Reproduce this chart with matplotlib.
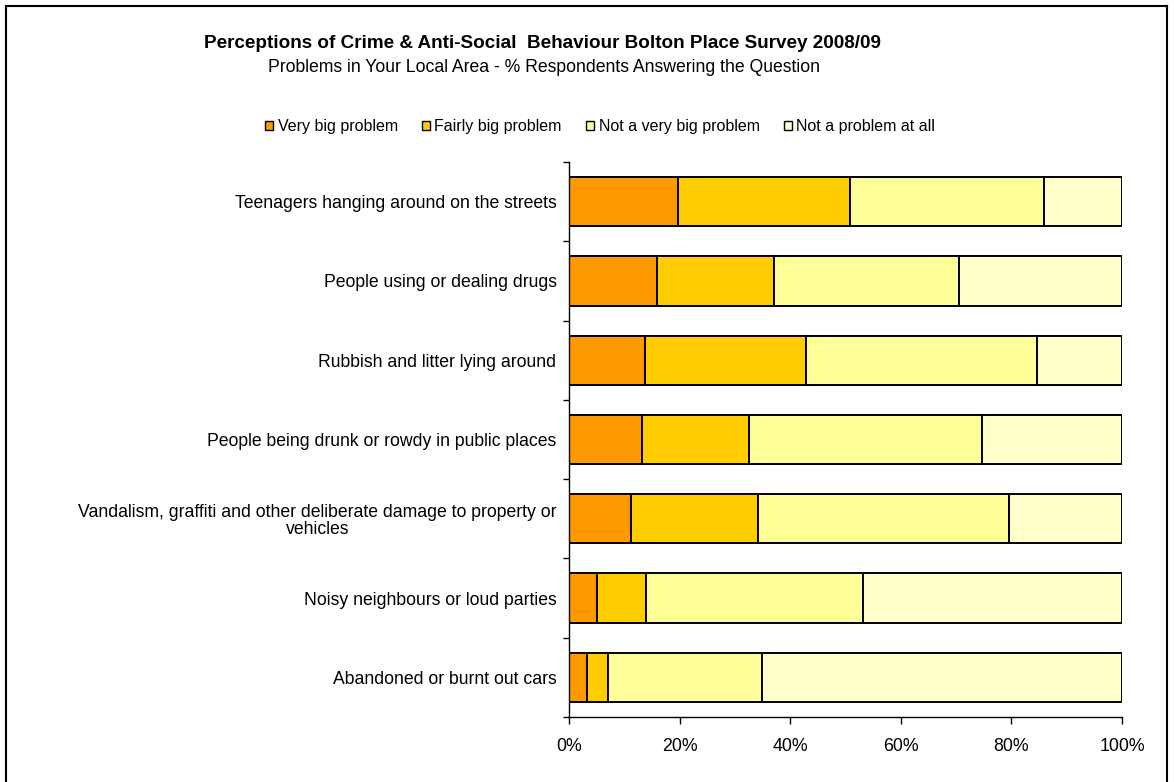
import matplotlib.pyplot as plt
from matplotlib.ticker import PercentFormatter
from matplotlib.lines import Line2D
from matplotlib.patches import Patch

plt.rcParams['font.family'] = ['Liberation Sans', 'DejaVu Sans']

categories = [
    "Teenagers hanging around on the streets",
    "People using or dealing drugs",
    "Rubbish and litter lying around",
    "People being drunk or rowdy in public places",
    "Vandalism, graffiti and other deliberate damage to property or\nvehicles",
    "Noisy neighbours or loud parties",
    "Abandoned or burnt out cars",
]
series_names = ["Very big problem", "Fairly big problem",
                "Not a very big problem", "Not a problem at all"]
very_big = [19.8, 15.9, 13.8, 13.2, 11.2, 5.0, 3.2]
fairly_big = [31.1, 21.2, 29.0, 19.4, 23.0, 8.9, 3.8]
not_very_big = [35.0, 33.5, 41.9, 42.0, 45.4, 39.2, 27.9]
not_at_all = [14.1, 29.4, 15.3, 25.4, 20.4, 46.9, 65.1]
colors = ["#FF9900", "#FFCC00", "#FFFF99", "#FFFFCC"]

W, H = 1174, 782
fig = plt.figure(figsize=(W / 100, H / 100), dpi=100)
ax = fig.add_axes([569 / W, 1 - 717 / H, (1122 - 569) / W, (717 - 162) / H])

ypos = list(range(len(categories)))
left = [0.0] * len(categories)
for name, vals, col in zip(series_names,
                           [very_big, fairly_big, not_very_big, not_at_all],
                           colors):
    ax.barh(ypos, vals, left=left, height=0.62, color=col,
            edgecolor="black", linewidth=1.4, label=name)
    left = [l + v for l, v in zip(left, vals)]

ax.set_xlim(0, 100)
ax.set_ylim(len(categories) - 0.5, -0.5)
ax.xaxis.set_major_formatter(PercentFormatter(decimals=0))
ax.set_xticks([0, 20, 40, 60, 80, 100])
ax.tick_params(axis="x", direction="out", length=5, width=1,
               labelsize=12.8, pad=10, colors="black")
ax.set_yticks(ypos)
ax.set_yticklabels(categories, fontsize=12.7, multialignment="center",
                   linespacing=1.05)
ax.tick_params(axis="y", length=0, pad=9)
ax.set_yticks([i - 0.5 for i in range(len(categories) + 1)], minor=True)
ax.tick_params(axis="y", which="minor", direction="out", length=4, width=1)
for s in ["top", "right"]:
    ax.spines[s].set_visible(False)
for s in ["left", "bottom"]:
    ax.spines[s].set_linewidth(1)

# title block
fig.text(543 / W, 1 - 43 / H,
         "Perceptions of Crime & Anti-Social  Behaviour Bolton Place Survey 2008/09",
         ha="center", va="center", fontsize=13.6, fontweight="bold")
fig.text(544 / W, 1 - 67 / H,
         "Problems in Your Local Area - % Respondents Answering the Question",
         ha="center", va="center", fontsize=12.7)

# legend
handles = [Patch(facecolor=c, edgecolor="black", linewidth=1) for c in colors]
fig.legend(handles, series_names, loc="center", bbox_to_anchor=(600 / W, 1 - 127 / H),
           ncol=4, frameon=False, fontsize=11.5, handlelength=0.5, handleheight=0.5,
           handletextpad=0.3, columnspacing=1.5)

# outer chart border
border = dict(color="black", linewidth=1.5, transform=fig.transFigure)
fig.add_artist(Line2D([6 / W, 6 / W], [0, 1 - 6 / H], **border))
fig.add_artist(Line2D([6 / W, 1167 / W], [1 - 6 / H, 1 - 6 / H], **border))
fig.add_artist(Line2D([1167 / W, 1167 / W], [0, 1 - 6 / H], **border))

fig.savefig("out.png", dpi=100, facecolor="white")
